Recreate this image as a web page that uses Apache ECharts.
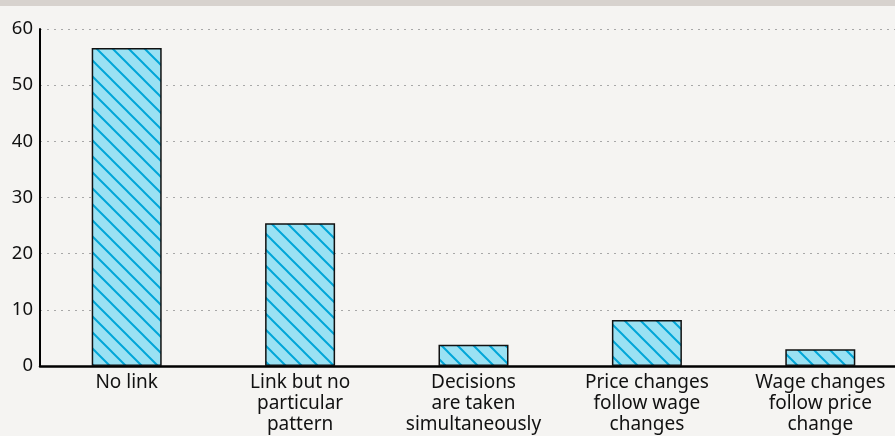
<!DOCTYPE html>
<html>
<head>
<meta charset="utf-8">
<script src="https://cdn.jsdelivr.net/npm/echarts@6/dist/echarts.min.js"></script>
<style>
html,body{margin:0;padding:0;background:#f5f4f2;}
#chart{width:895px;height:436px;}
</style>
</head>
<body>
<div id="chart"></div>
<script>
const categories = [
  'No link',
  'Link but no\nparticular\npattern',
  'Decisions\nare taken\nsimultaneously',
  'Price changes\nfollow wage\nchanges',
  'Wage changes\nfollow price\nchange'
];
const values = [56.6, 25.4, 3.8, 8.2, 3.0];
const yTicks = { min: 0, max: 60, interval: 10 };

function makePattern() {
  const s = 16;
  const c = document.createElement('canvas');
  c.width = s; c.height = s;
  const g = c.getContext('2d');
  g.fillStyle = '#9ae1f3';
  g.fillRect(0, 0, s, s);
  g.strokeStyle = '#00a6d8';
  g.lineWidth = 2;
  g.beginPath();
  g.moveTo(-2, -2); g.lineTo(s + 2, s + 2);
  g.moveTo(-2 - s, -2); g.lineTo(2, s + 2);
  g.moveTo(s - 2, -2); g.lineTo(2 * s + 2, s + 2);
  g.stroke();
  return c;
}

const chart = echarts.init(document.getElementById('chart'), null, { renderer: 'canvas' });
const font = '"Noto Sans", sans-serif';
chart.setOption({
  backgroundColor: '#f5f4f2',
  animation: false,
  graphic: [{
    type: 'rect', left: 0, top: 0, z: 10,
    shape: { x: 0, y: 0, width: 895, height: 6 },
    style: { fill: '#d7d2ce' }
  }],
  grid: { left: 40, top: 29, width: 867, height: 337, containLabel: false, outerBoundsMode: 'none' },
  xAxis: {
    type: 'category',
    data: categories,
    axisLine: { lineStyle: { color: '#000', width: 2.5 } },
    axisTick: { show: false },
    axisLabel: {
      interval: 0, margin: 6, color: '#111',
      fontFamily: font, fontSize: 19, lineHeight: 21
    }
  },
  yAxis: {
    type: 'value',
    min: yTicks.min, max: yTicks.max, interval: yTicks.interval,
    axisLine: { show: true, lineStyle: { color: '#000', width: 2 } },
    axisTick: { show: false },
    axisLabel: { margin: 7, color: '#111', fontFamily: font, fontSize: 18.5 },
    splitLine: { lineStyle: { color: '#a8a8a8', width: 1, type: [2, 5] } }
  },
  series: [{
    type: 'bar',
    data: values,
    barWidth: 70,
    itemStyle: {
      color: { image: makePattern(), repeat: 'repeat' },
      borderColor: '#111',
      borderWidth: 1.5
    }
  }]
});
</script>
</body>
</html>
